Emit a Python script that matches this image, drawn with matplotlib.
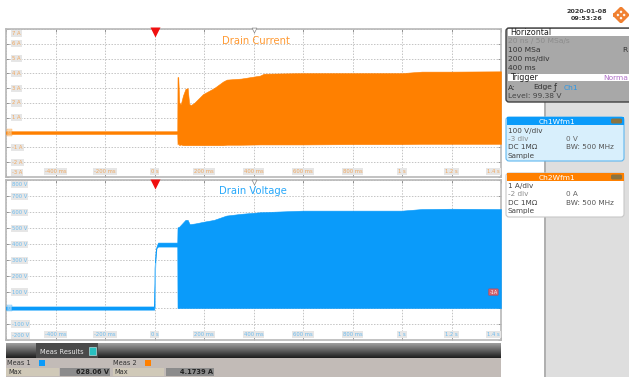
import matplotlib
matplotlib.use('Agg')
import matplotlib.pyplot as plt
from matplotlib.patches import Rectangle, FancyBboxPatch
import numpy as np

W, H = 629, 377

# Envelope of the drain current (s, A)
t_i = [-0.6, 0.092, 0.093, 0.096, 0.100, 0.106, 0.115, 0.125, 0.134, 0.140, 0.146, 0.160, 0.196, 0.240, 0.277,
       0.292, 0.350, 0.426, 0.442, 0.600, 0.800, 1.000, 1.080, 1.200, 1.400]
i_top = [0.09, 0.09, 3.75, 3.75, 2.05, 1.9, 2.5, 2.95, 3.0, 1.95, 1.85, 2.0, 2.6, 3.0, 3.45,
         3.58, 3.65, 3.85, 3.98, 4.02, 4.02, 4.02, 4.12, 4.12, 4.14]
i_bot = [-0.09, -0.09, -0.8, -0.7, -0.85, -0.8, -0.85, -0.85, -0.85, -0.85, -0.85, -0.85, -0.85, -0.85, -0.85,
         -0.82, -0.82, -0.8, -0.8, -0.8, -0.78, -0.78, -0.76, -0.76, -0.76]

# Envelope of the drain voltage (s, V)
t_v = [-0.6, -0.001, 0.0, 0.004, 0.008, 0.014, 0.092, 0.093, 0.100, 0.112, 0.125, 0.134, 0.142, 0.165, 0.200,
       0.240, 0.290, 0.350, 0.426, 0.600, 0.800, 1.000, 1.080, 1.200, 1.400]
v_top = [10, 10, 250, 350, 385, 410, 410, 505, 510, 530, 552, 552, 525, 530, 541,
         552, 579, 590, 600, 610, 610, 610, 620, 622, 620]
v_bot = [-10, -10, 100, 300, 375, 385, 385, 0, 0, 0, 0, 0, 0, 0, 0,
         0, 0, 0, 0, 0, 0, 0, 0, 0, 0]

x_ticks = [-0.4, -0.2, 0, 0.2, 0.4, 0.6, 0.8, 1.0, 1.2, 1.4]
x_labels = ['-400 ms', '-200 ms', '0 s', '200 ms', '400 ms', '600 ms', '800 ms', '1 s', '1.2 s', '1.4 s']
i_ticks = [7, 6, 5, 4, 3, 2, 1, -1, -2, -3]
v_ticks = [800, 700, 600, 500, 400, 300, 200, 100, -100, -200]

ORANGE = '#ff8000'
BLUE = '#0a9bfa'

fig = plt.figure(figsize=(W / 100, H / 100), dpi=100, facecolor='white')
px = matplotlib.transforms.Affine2D()


def axes_px(x0, y0, x1, y1):
    return fig.add_axes([x0 / W, 1 - y1 / H, (x1 - x0) / W, (y1 - y0) / H])


def box(x, y, w, h, fc, ec='none', lw=0):
    fig.add_artist(Rectangle((x / W, 1 - (y + h) / H), w / W, h / H, transform=fig.transFigure,
                             fc=fc, ec=ec, lw=lw))


def rbox(x, y, w, h, fc, ec='none', lw=0, r=3):
    # rounded panel in pixel coordinates
    fig.add_artist(FancyBboxPatch((x, H - y - h), w, h, boxstyle='round,pad=0,rounding_size=%s' % r,
                                  transform=px, fc=fc, ec=ec, lw=lw))


def label(x, y, s, color='#444444', size=5.5, ha='left', **kw):
    fig.text(x / W, 1 - y / H, s, color=color, fontsize=size, ha=ha, va='center', **kw)


def scope(ax, ylim, step, ticks, unit, color, light, pale):
    ax.set_xlim(-0.6, 1.4)
    ax.set_ylim(*ylim)
    ax.set_xticks(np.arange(-0.6, 1.41, 0.2))
    ax.set_yticks(np.arange(ylim[0], ylim[1] + 1e-6, step))
    ax.tick_params(which='major', direction='in', length=2.5, width=0.5, color='#777777', labelleft=False,
                   labelbottom=False, top=True, right=True)
    ax.grid(True, which='major', color='#c4c4c4', ls=(0, (1.5, 1.5)), lw=0.7, zorder=1)
    ax.set_axisbelow(True)
    for s in ax.spines.values():
        s.set_color('#b8b8b8')
        s.set_linewidth(1.2)
    tb = ax.get_xaxis_transform()
    for t, s in zip(x_ticks, x_labels):
        ha = 'right' if t == 1.4 else 'center'
        ax.text(t - (0.004 if t == 1.4 else 0), 0.035, s, transform=tb, color=light, fontsize=3.8, ha=ha,
                va='center', zorder=5, bbox=dict(fc='#e6e6e6', ec='none', pad=0.8))
    tl = ax.get_yaxis_transform()
    span = ylim[1] - ylim[0]
    for v in ticks:
        yy = min(max(v, ylim[0] + 0.028 * span), ylim[1] - 0.028 * span)
        ax.text(0.012, yy, '%d %s' % (v, unit), transform=tl, color=light, fontsize=3.8, ha='left', va='center',
                zorder=5, bbox=dict(fc='#e6e6e6', ec='none', pad=0.8))
    # trigger marker
    ax.plot([0], [0.977], marker='v', ms=6.5, color='#f01010', mec='none', transform=tb, clip_on=False, zorder=6)
    ax.plot([0.4], [0.99], marker='v', ms=3.5, mfc='white', mec='#888888', mew=0.5, transform=tb, clip_on=False,
            zorder=6)
    # channel ground marker
    ax.text(0.004, 0, '0', transform=tl, color=pale, fontsize=3.8, ha='left', va='center', zorder=6,
            bbox=dict(fc=pale, ec=color, lw=0.3, pad=0.6, alpha=0.6))


ax1 = axes_px(6, 29, 501, 177)
scope(ax1, (-3, 7), 1, i_ticks, 'A', ORANGE, '#f0a860', '#f7c890')
ax1.fill_between(t_i, i_bot, i_top, color=ORANGE, lw=0.4, zorder=3)
fig.text(256 / W, 1 - 41 / H, 'Drain Current', color='#ff9a33', fontsize=7.2, ha='center', va='center', zorder=10)

ax2 = axes_px(6, 180.3, 501, 340)
scope(ax2, (-200, 800), 100, v_ticks, 'V', BLUE, '#6cbcf0', '#a8d8f8')
ax2.fill_between(t_v, v_bot, v_top, color=BLUE, lw=0.4, zorder=3)
ax2.plot([0, 0], [0, 280], color='#7cc8fa', lw=0.6, zorder=3)
ax2.text(0.993, 100, '-1A', transform=ax2.get_yaxis_transform(), color='white', fontsize=3.5, ha='right', va='center',
         zorder=6, bbox=dict(boxstyle='round,pad=0.15', fc='#d0606c', ec='#c04050', lw=0.3))
fig.text(253 / W, 1 - 191 / H, 'Drain Voltage', color='#28a8fa', fontsize=7.2, ha='center', va='center', zorder=10)

# right hand side
box(545, 102, 84, 275, '#dedede')
box(544, 102, 2, 275, '#b0b0b0')
label(587, 11.5, '2020-01-08', size=4.6, ha='center', weight='bold', color='#333333')
label(587, 19, '09:53:26', size=4.6, ha='center', weight='bold', color='#333333')
ax_logo = axes_px(613, 7, 629, 23)
ax_logo.set_xlim(-1, 1)
ax_logo.set_ylim(-1, 1)
ax_logo.axis('off')
ax_logo.plot([-0.85, 0, 0.85, 0, -0.85], [0, 0.85, 0, -0.85, 0], color='#f08030', lw=2.2)
ax_logo.plot([-0.42, 0.42], [-0.42, 0.42], color='#f08030', lw=1.6)
ax_logo.plot([-0.42, 0.42], [0.42, -0.42], color='#f08030', lw=1.6)

rbox(506, 28, 130, 74, '#a8a8a8', ec='#404040', lw=1.0)
box(507.5, 29, 122, 7, 'white')
box(507.5, 73.5, 122, 7.5, 'white')
label(510, 32.5, 'Horizontal', size=5.8, color='#222222')
label(508, 41.5, '20 ns / 50 MSa/s', size=5.4, color='#8c8c8c')
label(508, 50.5, '100 MSa', size=5.4, color='#333333')
label(622, 50.5, 'R', size=5.4, color='#333333')
label(508, 59.5, '200 ms/div', size=5.4, color='#333333')
label(508, 68.5, '400 ms', size=5.4, color='#333333')
label(510, 77.5, 'Trigger', size=5.8, color='#222222')
label(628, 77.5, 'Norma', size=5.4, color='#b070c8', ha='right')
label(508, 87.5, 'A:', size=5.4, color='#333333')
label(533, 87.5, 'Edge', size=5.4, color='#333333')
label(554, 87.5, '\u0192', size=6, color='#333333')
label(564, 87.5, 'Ch1', size=5.4, color='#2a98e8')
label(508, 96, 'Level: 99.38 V', size=5.4, color='#444444')

rbox(506, 117, 118, 44, '#d8effc', ec='#60b8f0', lw=0.8)
box(506.5, 117, 117, 8, BLUE)
label(557, 121.5, 'Ch1Wfm1', size=5.4, color='white', ha='center')
rbox(611, 118.5, 11, 5, '#8a7340', r=1.5)
label(508, 131, '100 V/div', size=5.2)
label(508, 139, '-3 div', size=5.2, color='#8c8c8c')
label(566, 139, '0 V', size=5.2, color='#666666')
label(508, 147.5, 'DC 1M\u03a9', size=5.2)
label(566, 147.5, 'BW: 500 MHz', size=5.2, color='#555555')
label(508, 156, 'Sample', size=5.2)

rbox(506, 173, 118, 44, 'white', ec='#c8c8c8', lw=0.8)
box(506.5, 173, 117, 8, ORANGE)
label(557, 177.5, 'Ch2Wfm1', size=5.4, color='white', ha='center')
rbox(611, 174.5, 11, 5, '#8a7340', r=1.5)
label(508, 186, '1 A/div', size=5.2)
label(508, 194.5, '-2 div', size=5.2, color='#8c8c8c')
label(566, 194.5, '0 A', size=5.2, color='#666666')
label(508, 203, 'DC 1M\u03a9', size=5.2)
label(566, 203, 'BW: 500 MHz', size=5.2, color='#555555')
label(508, 211, 'Sample', size=5.2)

# measurement strip
ax_tab = axes_px(6, 343, 501, 358)
ax_tab.imshow(np.linspace(0.62, 0.12, 30).reshape(-1, 1), cmap='gray', vmin=0, vmax=1, aspect='auto',
              extent=[0, 1, 0, 1])
ax_tab.axis('off')
box(6, 358, 495, 19, '#c2bbb7')
box(36, 343, 62, 15, '#4a4a4a')
label(40, 352, 'Meas Results', size=4.8, color='#e8e8e8')
box(89, 347, 7, 8, '#28c0c0', ec='#d0f0f0', lw=0.4)
label(7, 363, 'Meas 1', size=4.8, color='#333333')
box(39, 359.5, 6, 6, BLUE)
label(113, 363, 'Meas 2', size=4.8, color='#333333')
box(144.5, 359.5, 6, 6, ORANGE)
box(6, 368, 53, 8, '#d0c9b8')
box(60, 368, 50, 8, '#8c8c8c')
box(113, 368, 51, 8, '#d0c9b8')
box(166, 368, 48, 8, '#8c8c8c')
label(8, 372, 'Max', size=4.8, color='#333333')
label(109, 372, '628.06 V', size=4.8, color='#222222', ha='right', weight='bold')
label(114, 372, 'Max', size=4.8, color='#333333')
label(213, 372, '4.1739 A', size=4.8, color='#222222', ha='right', weight='bold')

fig.savefig('out.png', dpi=100, facecolor='white')
